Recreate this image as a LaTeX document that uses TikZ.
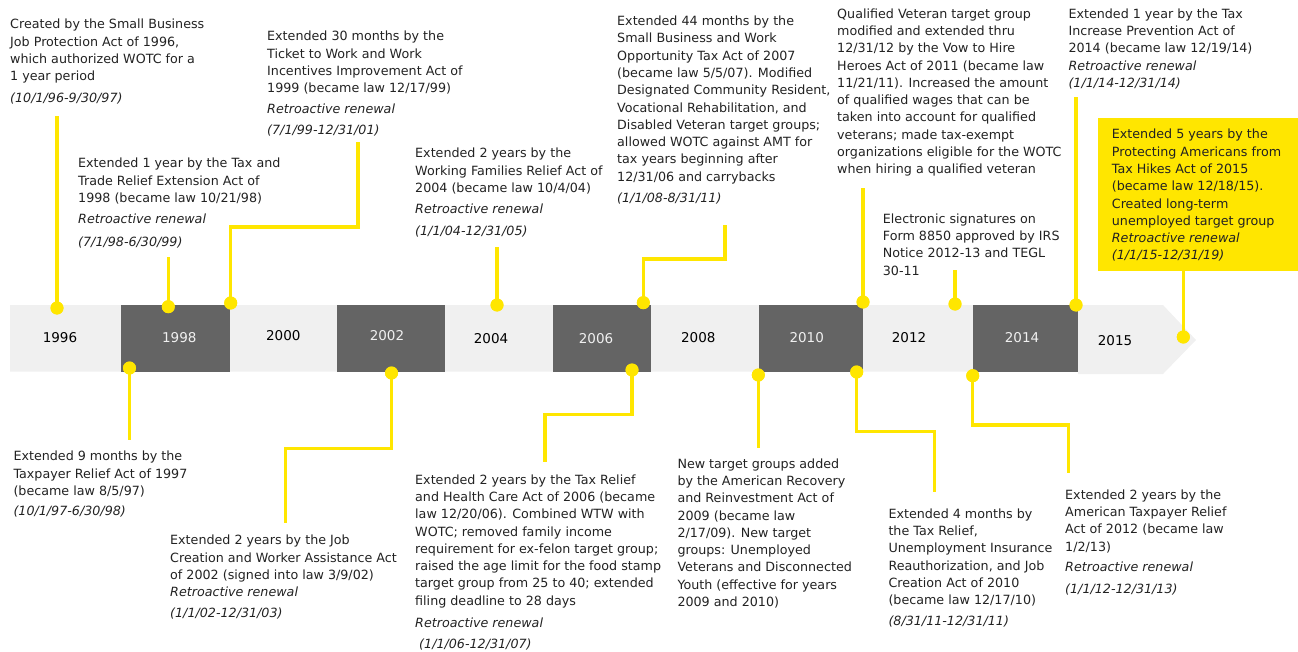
\documentclass[tikz,border=0pt]{standalone}
\usepackage{fontspec}
\setmainfont{DejaVu Sans}
\usetikzlibrary{positioning}
\definecolor{eyyellow}{RGB}{255,230,0}
\definecolor{barlight}{RGB}{240,240,240}
\definecolor{bardark}{RGB}{100,100,100}
\definecolor{txt}{RGB}{34,34,34}

\begin{document}
\begin{tikzpicture}[x=1pt,y=-1pt,
    note/.style={anchor=north west, align=left, inner sep=0pt, text=txt,
      font=\fontsize{12.7}{17.3}\selectfont},
    yr/.style={inner sep=0pt, font=\fontsize{13.5}{15}\selectfont},
    dot/.style={circle, fill=eyyellow, minimum size=13pt, inner sep=0pt},
    link/.style={eyyellow, line width=3.5pt}]
  \useasboundingbox (0,0) rectangle (1298,652);

  % timeline bar
  \fill[barlight] (10,305) -- (1163,305) -- (1196,340) -- (1163,374) -- (1078,374) -- (1078,371.5) -- (10,371.5) -- cycle;
  \foreach \xa/\xb in {120.7/230, 336.7/444.5, 553/650.7, 759.3/863.3, 973.3/1078.3}
    \fill[bardark] (\xa,305) rectangle (\xb,371.5);

  \node[yr] (y1996) at (60,338) {1996};
  \node[yr, text=barlight] (y1998) at (179.3,337.3) {1998};
  \node[yr] (y2000) at (283.3,336) {2000};
  \node[yr, text=barlight] (y2002) at (387,336) {2002};
  \node[yr] (y2004) at (491,339) {2004};
  \node[yr, text=barlight] (y2006) at (596,339) {2006};
  \node[yr] (y2008) at (698.3,337.3) {2008};
  \node[yr, text=barlight] (y2010) at (806.7,337.3) {2010};
  \node[yr] (y2012) at (909,338) {2012};
  \node[yr, text=barlight] (y2014) at (1022,338) {2014};
  \node[yr] (y2015) at (1115,341) {2015};

  % notes above the bar
  \node[note] (t1) at (10,19) {Created by the Small Business\\Job Protection Act of 1996,\\
    which authorized WOTC for a\\1 year period\\[4pt]\textit{(10/1/96-9/30/97)}};
  \node[note] (t2) at (267,31) {Extended 30 months by the\\Ticket to Work and Work\\
    Incentives Improvement Act of\\1999 (became law 12/17/99)\\[3pt]
    \textit{Retroactive renewal}\\[4pt]\textit{(7/1/99-12/31/01)}};
  \node[note] (t3) at (78,158) {Extended 1 year by the Tax and\\Trade Relief Extension Act of\\
    1998 (became law 10/21/98)\\[4pt]\textit{Retroactive renewal}\\[5pt]\textit{(7/1/98-6/30/99)}};
  \node[note] (t4) at (415,148) {Extended 2 years by the\\Working Families Relief Act of\\
    2004 (became law 10/4/04)\\[4pt]\textit{Retroactive renewal}\\[4pt]\textit{(1/1/04-12/31/05)}};
  \node[note] (t5) at (617,15.7) {Extended 44 months by the\\Small Business and Work\\
    Opportunity Tax Act of 2007\\(became law 5/5/07). Modified\\Designated Community Resident,\\
    Vocational Rehabilitation, and\\Disabled Veteran target groups;\\allowed WOTC against AMT for\\
    tax years beginning after\\12/31/06 and carrybacks\\[4pt]\textit{(1/1/08-8/31/11)}};
  \node[note] (t6) at (837,8.3) {Qualified Veteran target group\\modified and extended thru\\
    12/31/12 by the Vow to Hire\\Heroes Act of 2011 (became law\\11/21/11). Increased the amount\\
    of qualified wages that can be\\taken into account for qualified\\veterans; made tax-exempt\\
    organizations eligible for the WOTC\\when hiring a qualified veteran};
  \node[note] (t7) at (882.7,213.3) {Electronic signatures on\\Form 8850 approved by IRS\\
    Notice 2012-13 and TEGL\\30-11};
  \node[note] (t8) at (1068.3,8.3) {Extended 1 year by the Tax\\Increase Prevention Act of\\
    2014 (became law 12/19/14)\\\textit{Retroactive renewal}\\\textit{(1/1/14-12/31/14)}};
  \node[fill=eyyellow, anchor=north west, inner sep=0pt, minimum width=200.3pt,
    minimum height=153pt] (pa) at (1097.7,117.7) {};
  \node[note] (pt) at (1111.7,129) {Extended 5 years by the\\
    Protecting Americans from\\Tax Hikes Act of 2015\\(became law 12/18/15).\\
    Created long-term\\unemployed target group\\\textit{Retroactive renewal}\\
    \textit{(1/1/15-12/31/19)}};

  % notes below the bar
  \node[note] (b1) at (13.3,451) {Extended 9 months by the\\Taxpayer Relief Act of 1997\\
    (became law 8/5/97)\\[3pt]\textit{(10/1/97-6/30/98)}};
  \node[note] (b2) at (170,535) {Extended 2 years by the Job\\Creation and Worker Assistance Act\\
    of 2002 (signed into law 3/9/02)\\\textit{Retroactive renewal}\\[3.5pt]\textit{(1/1/02-12/31/03)}};
  \node[note] (b3) at (415,474.3) {Extended 2 years by the Tax Relief\\
    and Health Care Act of 2006 (became\\law 12/20/06). Combined WTW with\\
    WOTC; removed family income\\requirement for ex-felon target group;\\
    raised the age limit for the food stamp\\target group from 25 to 40; extended\\
    filing deadline to 28 days\\[5pt]\textit{Retroactive renewal}\\[4pt]\textit{\ (1/1/06-12/31/07)}};
  \node[note] (b4) at (677.3,458.3) {New target groups added\\by the American Recovery\\
    and Reinvestment Act of\\2009 (became law\\2/17/09). New target\\groups: Unemployed\\
    Veterans and Disconnected\\Youth (effective for years\\2009 and 2010)};
  \node[note] (b5) at (888.3,508.3) {Extended 4 months by\\the Tax Relief,\\
    Unemployment Insurance\\Reauthorization, and Job\\Creation Act of 2010\\
    (became law 12/17/10)\\[4pt]\textit{(8/31/11-12/31/11)}};
  \node[note] (b6) at (1065,489.3) {Extended 2 years by the\\American Taxpayer Relief\\
    Act of 2012 (became law\\1/2/13)\\[3.5pt]\textit{Retroactive renewal}\\[4pt]
    \textit{(1/1/12-12/31/13)}};

  % dots on the bar
  \node[dot] (d1) at (57,308) {};
  \node[dot] (d2) at (168.3,306.7) {};
  \node[dot] (d3) at (230.7,303) {};
  \node[dot] (d4) at (497,305) {};
  \node[dot] (d5) at (643.3,302.7) {};
  \node[dot] (d6) at (863,302) {};
  \node[dot] (d7) at (955,304) {};
  \node[dot] (d8) at (1076,305) {};
  \node[dot] (d9) at (1183.3,337) {};
  \node[dot] (e1) at (129.5,368) {};
  \node[dot] (e2) at (391.5,373) {};
  \node[dot] (e3) at (632,370) {};
  \node[dot] (e4) at (758.3,375) {};
  \node[dot] (e5) at (856.7,372) {};
  \node[dot] (e6) at (972.7,375.7) {};

  % free ends of the connectors
  \coordinate (c1) at (57,116);
  \coordinate (c2) at (168.3,256.7);
  \coordinate (c3) at (358,142.5);
  \coordinate (c4) at (497,247);
  \coordinate (c5) at (725,225);
  \coordinate (c6) at (863,188.3);
  \coordinate (c7) at (955,270);
  \coordinate (c8) at (1076,96.7);
  \coordinate (f1) at (129.5,440);
  \coordinate (f2) at (285.7,523.3);
  \coordinate (f3) at (545,461.7);
  \coordinate (f4) at (758.3,448.3);
  \coordinate (f5) at (934.3,491.7);
  \coordinate (f6) at (1068.3,473.3);

  \draw[link] (d1.center) -- (c1);
  \draw[link] (d2.center) -- (c2);
  \draw[link] (d3.center) |- (0,227 -| c3) -- (c3);
  \draw[link] (d4.center) -- (c4);
  \draw[link] (d5.center) |- (0,259 -| c5) -- (c5);
  \draw[link] (d6.center) -- (c6);
  \draw[link] (d7.center) -- (c7);
  \draw[link] (d8.center) -- (c8);
  \draw[link] (d9.center) -- (d9 |- pa.south);
  \draw[link] (e1.center) -- (f1);
  \draw[link] (e2.center) |- (0,448.3 -| f2) -- (f2);
  \draw[link] (e3.center) |- (0,414.3 -| f3) -- (f3);
  \draw[link] (e4.center) -- (f4);
  \draw[link] (e5.center) |- (0,431.7 -| f5) -- (f5);
  \draw[link] (e6.center) |- (0,425 -| f6) -- (f6);
  % dots again on top of the lines
  \foreach \n in {d1,d2,d3,d4,d5,d6,d7,d8,d9,e1,e2,e3,e4,e5,e6}
    \fill[eyyellow] (\n) circle (6.5pt);
\end{tikzpicture}
\end{document}
